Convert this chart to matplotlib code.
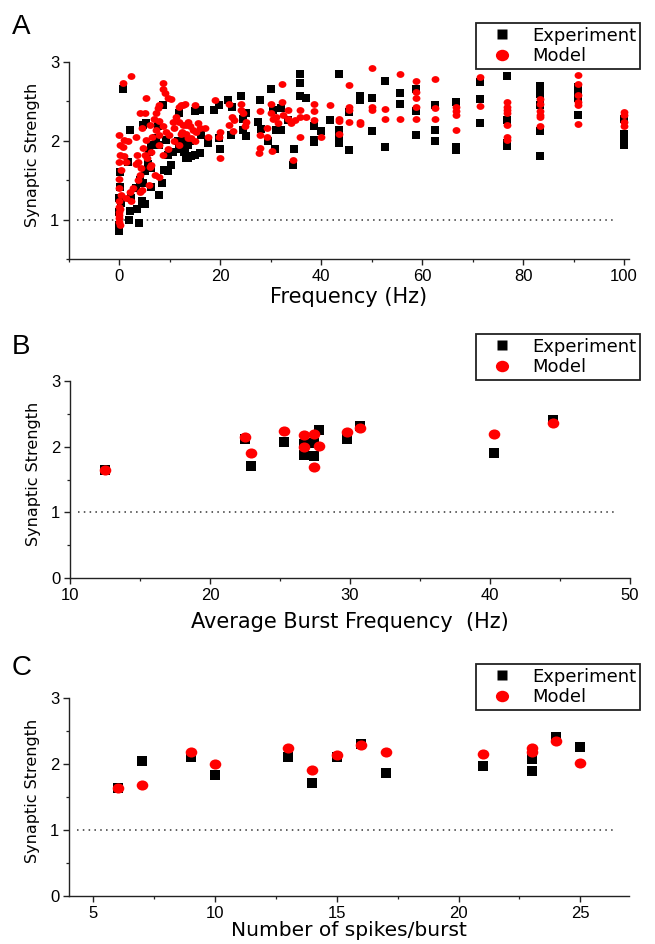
import numpy as np
import matplotlib
matplotlib.use('Agg')
import matplotlib.pyplot as plt
from matplotlib.lines import Line2D
from matplotlib.path import Path
from matplotlib.transforms import Affine2D
from matplotlib.ticker import MultipleLocator

# ---- panel A: synaptic strength vs instantaneous frequency ----
freq_exp = [0.7, 2.0, 1.7, 0.1, 0.1, 0.0, 0.3, 0.0, 0.0, 0.0, 1.9, 3.8, 2.0, 3.4, 4.5, 5.1,
            2.3, 3.2, 4.1, 4.6, 6.3, 7.8, 8.5, 8.9, 9.6, 6.3, 5.0, 5.6, 5.8, 7.0, 6.3, 7.3,
            7.9, 9.3, 9.6, 10.3, 10.6, 11.6, 11.9, 12.7, 13.2, 13.6, 4.6, 5.3, 8.6, 7.6, 11.9,
            12.2, 12.9, 13.6, 14.2, 14.9, 15.9, 13.2, 14.9, 15.9, 16.2, 17.5, 12.6, 13.9,
            18.7, 19.8, 20.0, 19.8, 21.5, 22.3, 22.2, 24.1, 24.5, 24.5, 25.1, 25.1, 27.8, 28.1,
            27.5, 30.1, 30.4, 29.4, 30.8, 31.1, 32.1, 32.1, 33.4, 34.4, 34.5, 35.7, 35.7, 35.7,
            37.0, 38.5, 38.5, 38.5, 40.0, 41.7, 43.5, 43.5, 43.5, 43.5, 45.5, 45.5, 47.6, 47.6,
            50.0, 50.0, 52.6, 52.6, 55.6, 55.6, 58.8, 58.8, 58.8,
            62.5, 62.5, 62.5, 66.7, 66.7, 66.7, 71.4, 71.4, 71.4, 76.9, 76.9, 76.9, 76.9,
            83.3, 83.3, 83.3, 83.3, 83.3, 90.9, 90.9, 90.9, 90.9, 100, 100, 100, 100, 100]
syn_exp = [2.66, 2.13, 1.73, 1.60, 1.41, 1.27, 1.21, 1.10, 0.93, 0.86, 1.00, 0.96, 1.11, 1.13, 1.24, 1.20,
           1.27, 1.40, 1.50, 1.46, 1.41, 1.31, 1.46, 1.63, 1.61, 1.65, 1.61, 1.71, 1.86, 1.95, 1.95, 2.03,
           1.95, 2.01, 1.82, 1.69, 1.86, 1.99, 1.90, 1.86, 1.78, 1.95, 2.20, 2.22, 2.45, 2.18, 2.35,
           1.95, 1.88, 1.78, 1.80, 1.82, 1.84, 2.05, 2.37, 2.39, 2.07, 1.97, 1.92, 1.99,
           2.39, 2.45, 1.89, 2.03, 2.51, 2.43, 2.07, 2.56, 2.28, 2.13, 2.06, 2.35, 2.52, 2.15,
           2.24, 2.66, 2.39, 1.99, 1.90, 2.13, 2.41, 2.13, 2.26, 1.69, 1.90, 2.85, 2.73, 2.57,
           2.54, 2.18, 2.01, 1.98, 2.12, 2.26, 2.85, 2.13, 2.03, 1.97, 2.36, 1.88, 2.57, 2.51,
           2.54, 2.12, 2.76, 1.92, 2.60, 2.46, 2.65, 2.37, 2.07,
           2.45, 2.13, 2.00, 2.49, 1.92, 1.88, 2.74, 2.53, 2.23, 2.82, 2.26, 1.97, 1.93,
           2.69, 2.59, 2.45, 2.12, 1.81, 2.68, 2.63, 2.54, 2.32, 2.27, 2.08, 2.03, 1.99, 1.94]

freq_mod = [0.7, 2.2, 0.0, 1.0, 1.7, 0.1, 0.7, 0.2, 1.0, 0.0, 1.3, 0.3, 3.3, 3.4, 3.6, 4.1,
            5.3, 4.5, 4.6, 5.0, 5.4, 6.3, 6.5, 6.0, 6.8, 7.3, 7.6, 7.9, 8.6, 8.7, 9.1, 9.6,
            10.3, 7.9, 8.6, 9.3, 9.9, 10.6, 11.3, 11.9, 12.6, 12.9, 10.9, 12.3, 13.2, 13.6,
            6.0, 4.3, 4.0, 3.6, 2.6, 2.0, 2.3, 1.3, 0.3, 0.0, 0.1, 0.0, 0.0, 0.2, 4.5, 4.0,
            5.8, 7.0, 7.8, 8.6, 9.6, 10.9, 11.9, 7.9, 7.3, 5.3, 6.3, 3.3, 7.9, 5.0,
            0.0, 0.0, 0.0, 0.0, 0.0,
            12.2, 14.9, 11.9, 12.6, 13.6, 13.9, 14.5, 15.5, 15.9, 16.9, 17.5, 14.2, 14.9, 12.2,
            13.2, 15.2,
            18.9, 20.0, 19.8, 20.0, 21.8, 22.4, 22.8, 21.8, 22.5, 24.1, 24.0, 24.5, 25.1, 24.8,
            27.8, 27.8, 27.8, 27.7, 29.3, 29.3, 30.1, 30.1, 30.4, 30.3, 31.1, 31.4, 32.3, 32.3,
            32.4, 33.4, 33.4, 34.1, 34.4, 34.7, 35.7, 35.7, 35.7, 37.0,
            38.5, 38.5, 38.5, 40.0, 41.7, 43.5, 43.5, 43.5, 45.5, 45.5, 45.5, 45.5, 47.6, 47.6,
            50.0, 50.0, 50.0, 52.6, 52.6, 55.6, 55.6, 58.8, 58.8, 58.8, 58.8, 58.8,
            62.5, 62.5, 62.5, 66.7, 66.7, 66.7, 66.7, 71.4, 71.4,
            76.9, 76.9, 76.9, 76.9, 76.9, 76.9, 76.9, 83.3, 83.3, 83.3, 83.3, 83.3, 83.3,
            90.9, 90.9, 90.9, 90.9, 90.9, 90.9, 100, 100, 100, 100]
syn_mod = [2.73, 2.82, 2.07, 2.01, 2.00, 1.95, 1.92, 1.82, 1.81, 1.73, 1.73, 1.63, 2.05, 1.82, 1.73, 2.35,
           2.54, 2.16, 1.91, 1.82, 1.78, 1.86, 2.05, 2.20, 2.28, 2.35, 2.41, 2.45, 2.66, 2.73, 2.60, 2.54,
           2.53, 2.25, 2.18, 2.11, 2.07, 2.24, 2.30, 2.43, 2.45, 2.47, 2.16, 2.11, 2.20, 2.03,
           1.67, 1.65, 1.57, 1.50, 1.40, 1.35, 1.23, 1.27, 1.31, 1.23, 1.14, 1.06, 0.97, 0.93, 1.38, 1.35,
           1.44, 1.57, 1.54, 1.82, 1.90, 1.99, 1.95, 2.07, 2.13, 2.01, 1.69, 1.71, 1.95, 2.35,
           1.52, 1.10, 1.02, 1.16, 1.40,
           2.45, 2.45, 2.24, 2.20, 2.24, 2.18, 2.13, 2.22, 2.16, 2.16, 2.05, 2.03, 1.99, 2.09,
           2.08, 2.11,
           2.52, 2.11, 2.04, 1.78, 2.47, 2.30, 2.26, 2.20, 2.12, 2.47, 2.39, 2.35, 2.24, 2.18,
           2.37, 2.07, 1.91, 1.84, 2.16, 2.05, 2.47, 2.35, 2.28, 1.87, 2.30, 2.22, 2.72, 2.49,
           2.32, 2.39, 2.28, 2.22, 1.76, 2.26, 2.39, 2.30, 2.04, 2.30,
           2.47, 2.37, 2.26, 2.04, 2.45, 2.28, 2.25, 2.09, 2.70, 2.43, 2.39, 2.24, 2.24, 2.21,
           2.92, 2.43, 2.39, 2.40, 2.28, 2.84, 2.28, 2.76, 2.62, 2.54, 2.43, 2.28,
           2.78, 2.42, 2.27, 2.43, 2.37, 2.32, 2.13, 2.81, 2.44,
           2.49, 2.43, 2.39, 2.35, 2.20, 2.04, 2.01, 2.53, 2.47, 2.38, 2.33, 2.30, 2.19,
           2.83, 2.72, 2.58, 2.49, 2.45, 2.21, 2.36, 2.32, 2.24, 2.19]

# ---- panel B: synaptic strength vs average burst frequency ----
burst_exp = [12.5, 22.5, 22.9, 25.3, 26.7, 26.7, 27.4, 27.4, 27.8, 29.8, 30.7, 40.3, 44.5]
bsyn_exp = [1.65, 2.12, 1.71, 2.07, 1.87, 2.04, 1.86, 2.05, 2.25, 2.11, 2.31, 1.90, 2.41]
burst_mod = [12.5, 22.5, 22.9, 25.3, 26.7, 27.4, 26.7, 27.8, 27.45, 29.8, 30.7, 40.3, 44.5]
bsyn_mod = [1.65, 2.14, 1.91, 2.24, 2.18, 2.19, 2.00, 2.01, 1.69, 2.23, 2.28, 2.20, 2.36]

# ---- panel C: synaptic strength vs spikes per burst ----
spikes_exp = [6, 7, 9, 10, 13, 14, 15, 16, 17, 21, 23, 23, 24, 25]
ssyn_exp = [1.64, 2.04, 2.11, 1.83, 2.10, 1.71, 2.11, 2.30, 1.86, 1.97, 2.07, 1.90, 2.41, 2.26]
spikes_mod = [6, 7, 9, 10, 13, 14, 15, 16, 17, 21, 23, 23, 24, 25]
ssyn_mod = [1.64, 1.69, 2.19, 2.00, 2.24, 1.91, 2.13, 2.29, 2.19, 2.16, 2.24, 2.19, 2.35, 2.01]

plt.rcParams['font.family'] = 'DejaVu Sans'
RED = '#ff0000'
ellipse = Path.unit_circle().transformed(Affine2D().scale(1.15, 1.0))

W, H = 655, 944
fig = plt.figure(figsize=(W / 100, H / 100), dpi=100)


def panel(rect, letter, letter_top, xlim, ylim, xmaj, xmin_, xlabel, xlab_y, xlab_size,
          xe, ye, xm, ym, s_sq, s_ci, leg_top):
    ax = fig.add_axes(rect)
    ax.scatter(xe, ye, marker='s', s=s_sq, color='black', linewidths=0, zorder=3)
    ax.scatter(xm, ym, marker=ellipse, s=s_ci, color=RED, linewidths=0, zorder=4)
    ax.axhline(1.0, xmin=0.015, xmax=0.975, color='#333333', lw=1.1,
               ls=(0, (1, 2.8)), zorder=1)

    ax.set_xlim(*xlim)
    ax.set_ylim(*ylim)
    ax.xaxis.set_major_locator(MultipleLocator(xmaj))
    ax.xaxis.set_minor_locator(MultipleLocator(xmin_))
    ax.yaxis.set_major_locator(MultipleLocator(1))
    ax.yaxis.set_minor_locator(MultipleLocator(0.5))
    for sp in ('top', 'right'):
        ax.spines[sp].set_visible(False)
    for sp in ('left', 'bottom'):
        ax.spines[sp].set_linewidth(1.0)
        ax.spines[sp].set_color('#222222')
    ax.tick_params(which='major', direction='out', length=4, width=1.0, pad=3,
                   labelsize=12, labelfontfamily='Liberation Sans', color='#222222')
    ax.tick_params(which='minor', direction='out', length=2.5, width=0.9, color='#222222')

    ax.set_ylabel('Synaptic Strength', fontsize=11.5)
    ax.yaxis.set_label_coords(-0.052, 0.53)
    ax.set_xlabel(xlabel, fontsize=xlab_size)
    ax.xaxis.set_label_coords(0.5, xlab_y)

    fig.text(12 / W, 1 - letter_top / H, letter, fontsize=20, family='Liberation Sans',
             ha='left', va='top')

    handles = [Line2D([], [], ls='none', marker='s', ms=7.5, color='black', mec='none'),
               Line2D([], [], ls='none', marker=ellipse, ms=9.5, color=RED, mec='none')]
    leg = ax.legend(handles, ['Experiment', 'Model'], loc='upper right',
                    bbox_to_anchor=(640 / W, 1 - leg_top / H), bbox_transform=fig.transFigure,
                    borderaxespad=0, fontsize=13, frameon=True, fancybox=False,
                    framealpha=1, edgecolor='#222222', borderpad=0.2,
                    labelspacing=0.15, handlelength=2.4, handletextpad=0.5)
    leg.get_frame().set_linewidth(1.3)
    return ax


panel([69 / W, 0.7256, 560 / W, 0.209], 'A', 14, (-10, 101), (0.5, 3.0), 20, 10,
      'Frequency (Hz)', -0.14, 15, freq_exp, syn_exp, freq_mod, syn_mod, 26, 32, 23)

panel([70 / W, 0.3877, 560 / W, 0.2087], 'B', 334, (10, 50), (0, 3), 10, 5,
      'Average Burst Frequency  (Hz)', -0.172, 15, burst_exp, bsyn_exp, burst_mod, bsyn_mod,
      60, 70, 334)

panel([69 / W, 0.0508, 560 / W, 0.2097], 'C', 655, (4, 27), (0, 3), 5, 2.5,
      'Number of spikes/burst', -0.128, 14.5, spikes_exp, ssyn_exp, spikes_mod, ssyn_mod,
      60, 70, 664)

plt.savefig('out.png', dpi=100)
plt.close()
